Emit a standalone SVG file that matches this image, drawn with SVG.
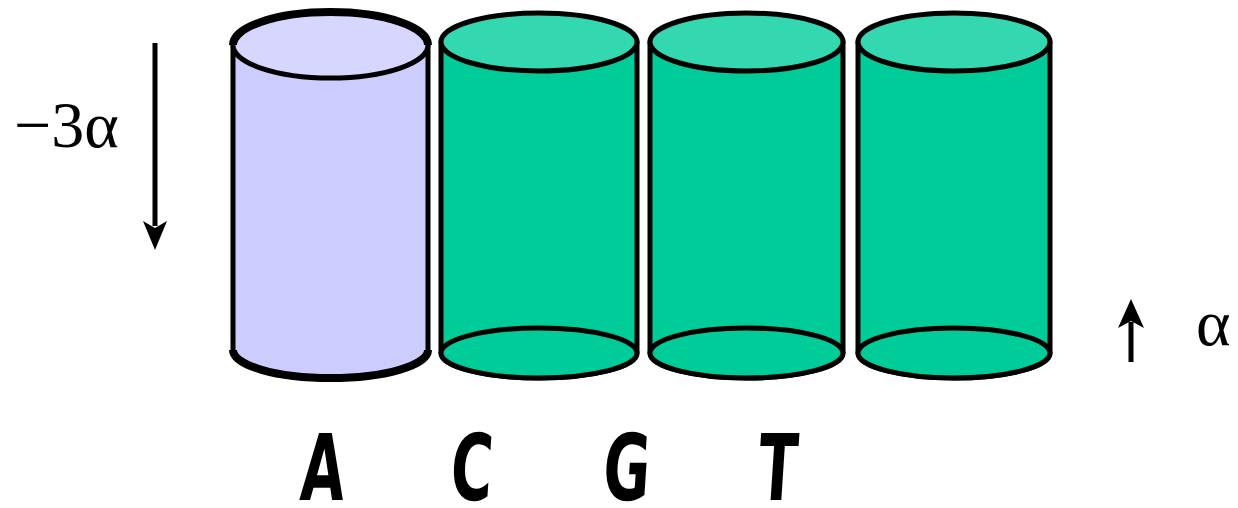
<svg xmlns="http://www.w3.org/2000/svg" width="1238" height="508" viewBox="0 0 1238 508">
<style>
.edge{stroke:#000;stroke-width:5;stroke-linejoin:round}
.thick{fill:none;stroke:#000;stroke-width:8}
.bodyA{fill:#CCCCFF}
.topA{fill:#D6D6FF}
.bodyG{fill:#00CC99}
.topG{fill:#33D8B0}
.math{font-family:'Liberation Serif',serif;font-size:66px;fill:#000}
.letter{font-family:'Comic Sans MS','DejaVu Sans',sans-serif;font-weight:bold;font-size:92px;fill:#000}
</style>
<g id="connectors">
<line x1="155" y1="43" x2="155" y2="226" stroke="#000" stroke-width="5"/>
<path d="M143,221 L155,250 L167,221 L155,228 Z" fill="#000"/>
<line x1="1131" y1="362" x2="1131" y2="322" stroke="#000" stroke-width="5"/>
<path d="M1118,328 L1131,299 L1144,328 L1131,321 Z" fill="#000"/>
</g>
<g id="label-minus3alpha"><text class="math" x="14" y="147">−3α</text></g>
<g id="label-alpha"><text class="math" x="1196" y="345">α</text></g>
<g id="cylA">
<path class="edge bodyA" d="M233,44 L233,350 A97.5,28 0 0 0 428,350 L428,44 Z"/>
<path class="thick" d="M233,350 A97.5,28 0 0 0 428,350"/>
<ellipse class="edge topA" cx="330.5" cy="45" rx="97.5" ry="33"/>
<path class="thick" d="M233,45 A97.5,33 0 0 1 428,45"/>
</g>
<g id="cylC">
<path class="edge bodyG" d="M441,42 L441,353 A98,25 0 0 0 637,353 L637,42 Z"/>
<ellipse class="edge topG" cx="539" cy="42" rx="98" ry="29"/>
<ellipse class="edge bodyG" cx="539" cy="353" rx="98" ry="25"/>
</g>
<g id="cylG">
<path class="edge bodyG" d="M650,42 L650,353 A96.5,25 0 0 0 843,353 L843,42 Z"/>
<ellipse class="edge topG" cx="746.5" cy="42" rx="96.5" ry="29"/>
<ellipse class="edge bodyG" cx="746.5" cy="353" rx="96.5" ry="25"/>
</g>
<g id="cylT">
<path class="edge bodyG" d="M858,42 L858,353 A96,25 0 0 0 1050,353 L1050,42 Z"/>
<ellipse class="edge topG" cx="954" cy="42" rx="96" ry="29"/>
<ellipse class="edge bodyG" cx="954" cy="353" rx="96" ry="25"/>
</g>
<g id="letters">
<text class="letter" text-anchor="middle" transform="translate(321,500) scale(0.62,1) skewX(-6)">A</text>
<text class="letter" text-anchor="middle" transform="translate(470,500) scale(0.62,1) skewX(-6)">C</text>
<text class="letter" text-anchor="middle" transform="translate(625,500) scale(0.62,1) skewX(-6)">G</text>
<text class="letter" text-anchor="middle" transform="translate(776,500) scale(0.62,1) skewX(-6)">T</text>
</g>
</svg>
